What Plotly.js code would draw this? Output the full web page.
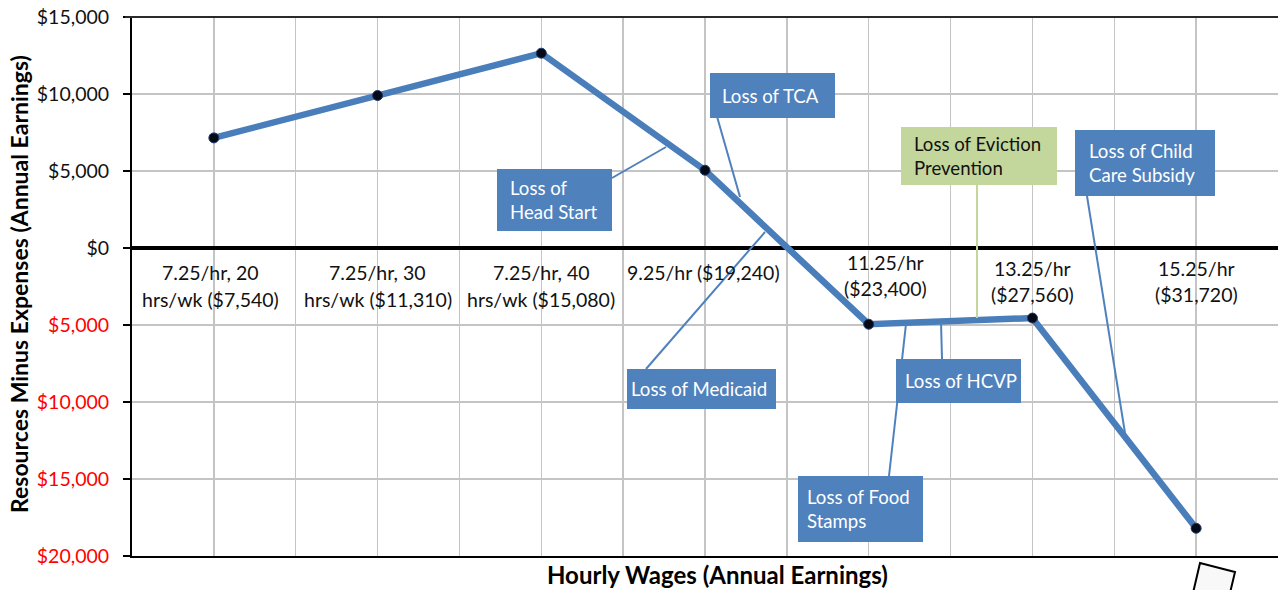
<!DOCTYPE html>
<html>
<head>
<meta charset="utf-8">
<script src="https://cdn.plot.ly/plotly-3.0.1.min.js"></script>
<style>html,body{margin:0;padding:0;background:#fff;}#chart{width:1278px;height:590px;}</style>
</head>
<body>
<div id="chart"></div>
<script>
// ---- data ----
const catLine1 = ['7.25/hr, 20', '7.25/hr, 30', '7.25/hr, 40', '9.25/hr ($19,240)', '11.25/hr', '13.25/hr', '15.25/hr'];
const catLine2 = ['hrs/wk ($7,540)', 'hrs/wk ($11,310)', 'hrs/wk ($15,080)', '', '($23,400)', '($27,560)', '($31,720)'];
const netValues = [7150, 9900, 12650, 5050, -4950, -4550, -18200];
const yTickVals = [-20000, -15000, -10000, -5000, 0, 5000, 10000, 15000];
const yTickText = ['$20,000', '$15,000', '$10,000', '$5,000', '$0', '$5,000', '$10,000', '$15,000'];
const calloutTexts = ['Loss of TCA', 'Loss of<br>Head Start', 'Loss of Medicaid', 'Loss of HCVP', 'Loss of Food<br>Stamps', 'Loss of Eviction<br>Prevention', 'Loss of Child<br>Care Subsidy'];

// ---- layout helpers (pixel -> paper) ----
const L = 132, T = 17, W = 1146, H = 539;
const px = x => (x - L) / W;
const py = y => (T + H - y) / H;
const FONT = 'Lato, "Open Sans", sans-serif';
const BLUE = '#4f81bd', GREEN = '#c3d69b';

const xIdx = netValues.map((_, i) => i);

const trace = {
  x: xIdx, y: netValues, type: 'scatter', mode: 'lines+markers',
  line: {color: '#4a7ebb', width: 6.5},
  marker: {color: '#050a18', size: 10, line: {color: '#1f3a6a', width: 1}},
  hoverinfo: 'skip'
};

const annotations = [];
// category labels inside plot under zero line
const line1Y = [272, 272, 272, 272, 262, 268, 268];
const line2Y = [300, 300, 300, 300, 288, 294, 294];
const xNudge = [-3, 0, 0, -2, 17, 0, 0];
xIdx.forEach(i => {
  annotations.push({x: i, xref: 'x', y: py(line1Y[i]), yref: 'paper', text: catLine1[i], showarrow: false,
    xanchor: 'center', yanchor: 'middle', xshift: xNudge[i], font: {family: FONT, size: 19.5, color: '#111'}});
  if (catLine2[i]) annotations.push({x: i, xref: 'x', y: py(line2Y[i]), yref: 'paper', text: catLine2[i], showarrow: false,
    xanchor: 'center', yanchor: 'middle', xshift: xNudge[i], font: {family: FONT, size: 19.5, color: '#111'}});
});

// callout boxes [x0,y0,x1,y1] in pixels
const boxes = [
  [710, 73, 835, 118, BLUE, '#fff'],
  [497, 169, 612, 231, BLUE, '#fff'],
  [627, 369, 776, 409, BLUE, '#fff'],
  [896, 359, 1021, 403, BLUE, '#fff'],
  [798, 476, 923, 542, BLUE, '#fff'],
  [901, 127, 1057, 185, GREEN, '#111'],
  [1075, 130, 1215, 196, BLUE, '#fff']
];
const padL = [12, 13, 4, 9, 9, 13, 14];
boxes.forEach((b, k) => {
  annotations.push({xref: 'paper', yref: 'paper', x: px(b[0] + padL[k]), y: py((b[1] + b[3]) / 2),
    xanchor: 'left', yanchor: 'middle', align: 'left', showarrow: false, borderpad: 0, borderwidth: 0,
    text: calloutTexts[k], font: {family: FONT, size: 18.6, color: b[5]}});
});

// axis titles
annotations.push({xref: 'paper', yref: 'paper', x: px(717), y: py(574), text: '<b>Hourly Wages (Annual Earnings)</b>',
  showarrow: false, xanchor: 'center', yanchor: 'middle', font: {family: FONT, size: 24, color: '#000'}});
annotations.push({xref: 'paper', yref: 'paper', x: px(19), y: py(284), text: '<b>Resources Minus Expenses (Annual Earnings)</b>',
  showarrow: false, textangle: -90, xanchor: 'center', yanchor: 'middle', font: {family: FONT, size: 23, color: '#000'}});

// leader lines
const leaders = [
  [716, 113, 740, 197, BLUE],
  [612, 178, 666, 147, BLUE],
  [646, 369, 765, 232, BLUE],
  [942, 359, 941, 322, BLUE],
  [889, 476, 906, 324, BLUE],
  [977, 185, 977, 318, GREEN],
  [1087, 196, 1125, 433, BLUE]
];
const shapes = [];
leaders.forEach(s => {
  shapes.push({type: 'line', xref: 'paper', yref: 'paper', x0: px(s[0]), y0: py(s[1]), x1: px(s[2]), y1: py(s[3]),
    line: {color: s[4], width: 2}, layer: 'above'});
});
// box backgrounds (drawn after leaders so they cover them)
boxes.forEach(b => {
  shapes.push({type: 'rect', xref: 'paper', yref: 'paper', x0: px(b[0]), x1: px(b[2]), y0: py(b[3]), y1: py(b[1]),
    fillcolor: b[4], line: {width: 0}, layer: 'above'});
});
// top border line
shapes.push({type: 'line', xref: 'paper', yref: 'paper', x0: -0.006, x1: 1, y0: 1, y1: 1, line: {color: '#2a2a2a', width: 2}, layer: 'above'});
// stray tilted box at bottom right
shapes.push({type: 'path', xref: 'paper', yref: 'paper',
  path: `M ${px(1200)} ${py(563)} L ${px(1235)} ${py(572)} L ${px(1230)} ${py(593)} L ${px(1193)} ${py(593)} Z`,
  fillcolor: '#f8f8f8', line: {color: '#000', width: 2}, layer: 'above'});

const layout = {
  width: 1278, height: 590,
  margin: {l: L, r: 0, t: T, b: 590 - T - H},
  paper_bgcolor: '#fff', plot_bgcolor: '#fff',
  showlegend: false,
  xaxis: {range: [-0.5, 6.5], tick0: -0.5, dtick: 0.5, showticklabels: false, ticks: '',
    showgrid: true, gridcolor: '#c4c4c4', gridwidth: 1.5, zeroline: false,
    showline: true, linecolor: '#000', linewidth: 2, fixedrange: true},
  yaxis: {range: [-20000, 15000], tickvals: yTickVals,
    ticktext: yTickText.map((t, i) => yTickVals[i] < 0 ? '<span style="color:#ff0000">' + t + '</span>' : t),
    ticks: 'outside', ticklen: 7, tickwidth: 1.5, tickcolor: '#000', ticklabelstandoff: 10,
    tickfont: {family: FONT, size: 19.5, color: '#111'},
    showgrid: true, gridcolor: '#c4c4c4', gridwidth: 1.5,
    zeroline: true, zerolinecolor: '#000', zerolinewidth: 3.5,
    showline: true, linecolor: '#000', linewidth: 2, fixedrange: true},
  annotations: annotations,
  shapes: shapes
};

Plotly.newPlot('chart', [trace], layout, {displayModeBar: false, staticPlot: true});
</script>
</body>
</html>
